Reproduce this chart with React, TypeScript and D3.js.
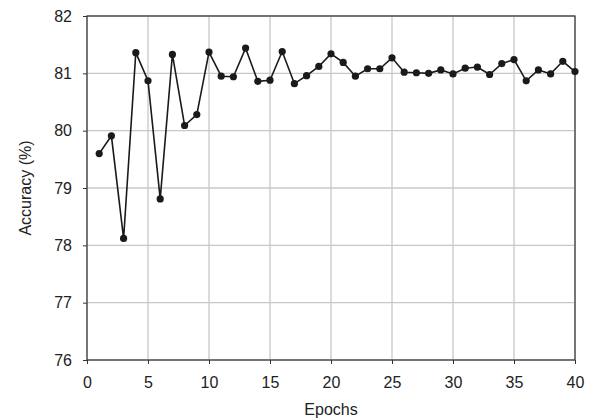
import { useEffect, useRef } from "react";
import * as d3 from "d3";

const epochs = d3.range(1, 41);
const accuracy = [
  79.6, 79.91, 78.12, 81.36, 80.87, 78.81, 81.33, 80.09, 80.28, 81.37,
  80.95, 80.94, 81.44, 80.86, 80.88, 81.38, 80.82, 80.96, 81.12, 81.34,
  81.19, 80.95, 81.08, 81.08, 81.27, 81.02, 81.01, 81.0, 81.06, 80.99,
  81.09, 81.11, 80.98, 81.17, 81.24, 80.87, 81.06, 80.99, 81.21, 81.03,
];
const xTicks = [0, 5, 10, 15, 20, 25, 30, 35, 40];
const yTicks = [76, 77, 78, 79, 80, 81, 82];

export default function App() {
  const svgRef = useRef<SVGSVGElement>(null);

  useEffect(() => {
    const fullWidth = 592;
    const fullHeight = 419;
    const margin = { top: 16, right: 17, bottom: 59, left: 87 };
    const width = fullWidth - margin.left - margin.right;
    const height = fullHeight - margin.top - margin.bottom;

    const svg = d3.select(svgRef.current);
    svg.selectAll("*").remove();

    const g = svg.append("g").attr("transform", `translate(${margin.left},${margin.top})`);

    const x = d3.scaleLinear().domain([0, 40]).range([0, width]);
    const y = d3.scaleLinear().domain([76, 82]).range([height, 0]);

    // grid
    g.append("g")
      .selectAll("line")
      .data(xTicks)
      .join("line")
      .attr("x1", d => x(d))
      .attr("x2", d => x(d))
      .attr("y1", 0)
      .attr("y2", height)
      .attr("stroke", "#c8c8c8")
      .attr("stroke-width", 1.3);

    g.append("g")
      .selectAll("line")
      .data(yTicks)
      .join("line")
      .attr("x1", 0)
      .attr("x2", width)
      .attr("y1", d => y(d))
      .attr("y2", d => y(d))
      .attr("stroke", "#c8c8c8")
      .attr("stroke-width", 1.3);

    // frame
    g.append("rect")
      .attr("width", width)
      .attr("height", height)
      .attr("fill", "none")
      .attr("stroke", "#333")
      .attr("stroke-width", 1.2);

    const font = "'Liberation Sans', Arial, sans-serif";
    const fontSize = "16px";

    const xAxis = g.append("g")
      .attr("transform", `translate(0,${height})`)
      .call(d3.axisBottom(x).tickValues(xTicks).tickFormat(d3.format("d")).tickSize(4).tickPadding(13));
    const yAxis = g.append("g")
      .call(d3.axisLeft(y).tickValues(yTicks).tickFormat(d3.format("d")).tickSize(4).tickPadding(11));

    [xAxis, yAxis].forEach(a => {
      a.select(".domain").remove();
      a.selectAll("line").attr("stroke", "#333");
      a.selectAll("text")
        .attr("fill", "#222")
        .style("font-family", font)
        .style("font-size", fontSize);
    });

    // series
    const line = d3.line<number>()
      .x((d, i) => x(epochs[i]))
      .y(d => y(d));

    g.append("path")
      .datum(accuracy)
      .attr("d", line)
      .attr("fill", "none")
      .attr("stroke", "#1a1a1a")
      .attr("stroke-width", 1.6);

    g.selectAll("circle")
      .data(accuracy)
      .join("circle")
      .attr("cx", (d, i) => x(epochs[i]))
      .attr("cy", d => y(d))
      .attr("r", 3.6)
      .attr("fill", "#1a1a1a");

    // labels
    svg.append("text")
      .attr("x", margin.left + width / 2)
      .attr("y", 415)
      .attr("text-anchor", "middle")
      .attr("fill", "#222")
      .style("font-family", font)
      .style("font-size", fontSize)
      .text("Epochs");

    svg.append("text")
      .attr("transform", `translate(31,${margin.top + height / 2}) rotate(-90)`)
      .attr("text-anchor", "middle")
      .attr("fill", "#222")
      .style("font-family", font)
      .style("font-size", fontSize)
      .text("Accuracy (%)");
  }, []);

  return (
    <svg
      ref={svgRef}
      width={592}
      height={419}
      style={{ position: "absolute", left: 0, top: 0, background: "#fff" }}
    />
  );
}
